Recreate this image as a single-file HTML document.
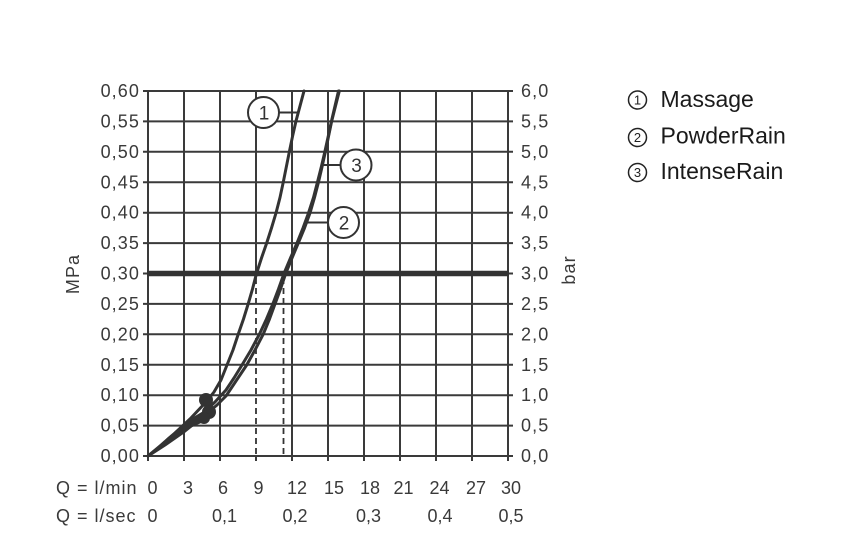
<!DOCTYPE html>
<html><head><meta charset="utf-8"><style>
html,body{margin:0;padding:0;background:#fff;}
svg{display:block;}
text{font-family:"Liberation Sans",Arial,sans-serif;}
</style></head><body>
<svg width="867" height="544" viewBox="0 0 867 544" xmlns="http://www.w3.org/2000/svg">
<rect width="867" height="544" fill="#fff"/>
<g stroke="#3a3a3a" stroke-width="2" fill="none">
<!-- vertical grid -->
<line x1="148" y1="91" x2="148" y2="461"/>
<line x1="184" y1="91" x2="184" y2="461"/>
<line x1="220" y1="91" x2="220" y2="461"/>
<line x1="256" y1="91" x2="256" y2="275"/>
<line x1="256" y1="455" x2="256" y2="461"/>
<line x1="292" y1="91" x2="292" y2="461"/>
<line x1="328" y1="91" x2="328" y2="461"/>
<line x1="364" y1="91" x2="364" y2="461"/>
<line x1="400" y1="91" x2="400" y2="461"/>
<line x1="436" y1="91" x2="436" y2="461"/>
<line x1="472" y1="91" x2="472" y2="461"/>
<line x1="508" y1="91" x2="508" y2="461"/>
<!-- horizontal grid -->
<line x1="143" y1="456" x2="513" y2="456"/>
<line x1="143" y1="425.6" x2="513" y2="425.6"/>
<line x1="143" y1="395.2" x2="513" y2="395.2"/>
<line x1="143" y1="364.8" x2="513" y2="364.8"/>
<line x1="143" y1="334.3" x2="513" y2="334.3"/>
<line x1="143" y1="303.9" x2="513" y2="303.9"/>
<line x1="143" y1="273.5" x2="513" y2="273.5"/>
<line x1="143" y1="243.1" x2="513" y2="243.1"/>
<line x1="143" y1="212.7" x2="513" y2="212.7"/>
<line x1="143" y1="182.3" x2="513" y2="182.3"/>
<line x1="143" y1="151.8" x2="513" y2="151.8"/>
<line x1="143" y1="121.4" x2="513" y2="121.4"/>
<line x1="143" y1="91" x2="513" y2="91"/>
</g>
<line x1="147" y1="273.5" x2="509" y2="273.5" stroke="#333" stroke-width="5.5"/>
<g stroke="#333" stroke-width="1.8" stroke-dasharray="6,4">
<line x1="256" y1="278" x2="256" y2="455"/>
<line x1="283.5" y1="278" x2="283.5" y2="455"/>
</g>
<g stroke="#333" stroke-width="3" fill="none" stroke-linejoin="round" stroke-linecap="round">
<polyline points="148,456 160,446 175,433 190,419 206,402 214,392 221,380 227,365 233,350 238.3,334 243.5,319 248.3,303.5 252.5,289 256.5,273.5 261.5,258 266.7,243 271.5,228 276,213 280,197.5 283.3,182 286.3,167 289.3,152 292.5,136.5 296,121 300,106 304,91"/>
<polyline points="148,456 165,445 185,431 205,415 217,405 226,396 236,381 246.7,365 255,350 263.3,334 269.5,319 275,304 280.5,289 285.7,273.5 292,258 298.3,243 304.5,228 310,213 314.5,197.5 318.5,182 322,167 325.3,152 328.5,136.5 331.7,121 335.5,106 339.3,91"/>
<polyline points="148,456 165,443 185,428 203,413 215,402 226,390 234,378 242,365 251,350 259.5,334 266.5,319 272.8,304 278.5,289 284,273.5 290.5,258 297,243 303,228 308.5,213 313.5,197.5 317.5,182 321.3,167 324.8,152 328.2,136.5 331.5,121 335,106 338.5,91"/>
</g>
<path d="M149,455 L168,437 L190,419 L205,410 L208,420 L190,428 L172,440 Z" fill="#333"/>
<g fill="#333">
<circle cx="206" cy="400" r="7"/>
<circle cx="209" cy="412" r="7"/>
<circle cx="204" cy="418" r="6"/>
</g>
<!-- callouts -->
<g stroke="#333" stroke-width="2">
<line x1="279" y1="112.5" x2="298" y2="112.5"/>
<line x1="323" y1="165" x2="341" y2="165"/>
<line x1="307" y1="222.5" x2="328" y2="222.5"/>
</g>
<g stroke="#333" stroke-width="2" fill="#fff">
<circle cx="263.5" cy="112.5" r="15.5"/>
<circle cx="356" cy="165" r="15.5"/>
<circle cx="343.5" cy="222.5" r="15.5"/>
</g>
<g fill="#333" font-size="19" text-anchor="middle">
<text x="264" y="119.5">1</text>
<text x="356.5" y="172">3</text>
<text x="344" y="229.5">2</text>
</g>
<!-- left tick labels -->
<g fill="#3a3a3a" font-size="18" text-anchor="end" letter-spacing="1.1">
<text x="140" y="462">0,00</text>
<text x="140" y="431.6">0,05</text>
<text x="140" y="401.2">0,10</text>
<text x="140" y="370.8">0,15</text>
<text x="140" y="340.3">0,20</text>
<text x="140" y="309.9">0,25</text>
<text x="140" y="279.5">0,30</text>
<text x="140" y="249.1">0,35</text>
<text x="140" y="218.7">0,40</text>
<text x="140" y="188.3">0,45</text>
<text x="140" y="157.8">0,50</text>
<text x="140" y="127.4">0,55</text>
<text x="140" y="97">0,60</text>
</g>
<g fill="#3a3a3a" font-size="18" letter-spacing="1.1">
<text x="521" y="462">0,0</text>
<text x="521" y="431.6">0,5</text>
<text x="521" y="401.2">1,0</text>
<text x="521" y="370.8">1,5</text>
<text x="521" y="340.3">2,0</text>
<text x="521" y="309.9">2,5</text>
<text x="521" y="279.5">3,0</text>
<text x="521" y="249.1">3,5</text>
<text x="521" y="218.7">4,0</text>
<text x="521" y="188.3">4,5</text>
<text x="521" y="157.8">5,0</text>
<text x="521" y="127.4">5,5</text>
<text x="521" y="97">6,0</text>
</g>
<g fill="#3a3a3a" font-size="18" letter-spacing="1.1">
<text transform="translate(79,274) rotate(-90)" text-anchor="middle">MPa</text>
<text transform="translate(575,270) rotate(-90)" text-anchor="middle">bar</text>
</g>
<!-- bottom labels -->
<g fill="#3a3a3a" font-size="18" letter-spacing="1">
<text x="56" y="494">Q = l/min</text>
<text x="56" y="522">Q = l/sec</text>
</g>
<g fill="#3a3a3a" font-size="18" text-anchor="middle">
<text x="152.5" y="494">0</text>
<text x="188" y="494">3</text>
<text x="223" y="494">6</text>
<text x="258.5" y="494">9</text>
<text x="297" y="494">12</text>
<text x="334" y="494">15</text>
<text x="370" y="494">18</text>
<text x="403.5" y="494">21</text>
<text x="439.5" y="494">24</text>
<text x="476" y="494">27</text>
<text x="511" y="494">30</text>
<text x="152.5" y="522">0</text>
<text x="224.5" y="522">0,1</text>
<text x="295" y="522">0,2</text>
<text x="368.5" y="522">0,3</text>
<text x="440" y="522">0,4</text>
<text x="511" y="522">0,5</text>
</g>
<!-- legend -->
<g stroke="#222" stroke-width="1.5" fill="none">
<circle cx="637.5" cy="100" r="9"/>
<circle cx="637.5" cy="137.5" r="9"/>
<circle cx="637.5" cy="172.5" r="9"/>
</g>
<g fill="#222" font-size="13" text-anchor="middle">
<text x="637.5" y="104.7">1</text>
<text x="637.5" y="142.2">2</text>
<text x="637.5" y="177.2">3</text>
</g>
<g fill="#1a1a1a" font-size="23">
<text x="660.5" y="107">Massage</text>
<text x="660.5" y="143.5">PowderRain</text>
<text x="660.5" y="179">IntenseRain</text>
</g>
</svg>
</body></html>
